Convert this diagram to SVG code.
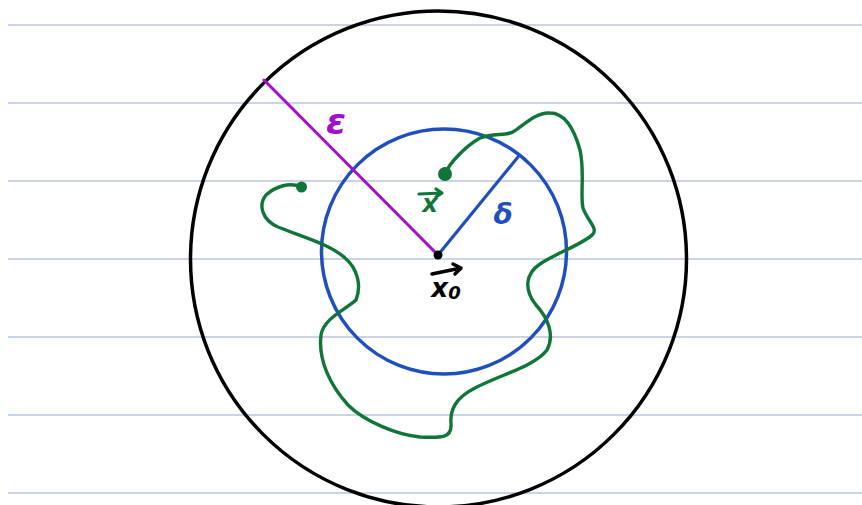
<svg xmlns="http://www.w3.org/2000/svg" width="862" height="505" viewBox="0 0 862 505">
<style>
.rule{stroke:#b8c4de;stroke-width:1.5}
.hand{fill:none;stroke-linecap:round;stroke-linejoin:round}
.lbl{font-family:"DejaVu Sans",sans-serif;font-style:italic;font-weight:bold}
</style>
<rect width="862" height="505" fill="#ffffff"/>
<g id="rules">
<line class="rule" x1="8" y1="25" x2="862" y2="25"/>
<line class="rule" x1="8" y1="103" x2="862" y2="103"/>
<line class="rule" x1="8" y1="181" x2="862" y2="181"/>
<line class="rule" x1="8" y1="259" x2="862" y2="259"/>
<line class="rule" x1="8" y1="337" x2="862" y2="337"/>
<line class="rule" x1="8" y1="415" x2="862" y2="415"/>
<line class="rule" x1="8" y1="493" x2="862" y2="493"/>
</g>
<g id="outer-circle"><circle class="hand" cx="438.5" cy="259" r="248" stroke="#000" stroke-width="3.5"/></g>
<g id="inner-circle"><circle class="hand" cx="444" cy="251.5" r="122.5" stroke="#1f4fbf" stroke-width="3.5"/></g>
<g id="curve">
<path class="hand" stroke="#107538" stroke-width="3.4" d="M445,174 C450,162 466,146 480,138 C495,132 508,137 516,130 C527,122 538,112 550,113 C566,113 575,132 580,150 C585,172 580,195 583,208 C587,220 598,228 593,234 C584,244 558,252 540,264 C525,274 524,290 536,305 C548,318 555,335 547,350 C535,366 500,375 475,388 C455,398 450,410 451,424 C452,438 442,438 420,437 C398,435 365,422 348,405 C330,385 318,360 321,335 C324,318 345,310 356,300 C362,285 357,268 345,258 C330,244 300,236 278,227 C262,220 258,205 266,195 C276,186 290,182 301,187"/>
<circle cx="445" cy="174" r="7" fill="#107538"/>
<circle cx="301.5" cy="187" r="5.5" fill="#107538"/>
</g>
<g id="radius-epsilon">
<line class="hand" x1="264" y1="80" x2="438" y2="255" stroke="#a410c8" stroke-width="3"/>
<text class="lbl" x="336" y="134" font-size="36" font-weight="normal" fill="#a410c8" text-anchor="middle">ε</text>
</g>
<g id="radius-delta">
<line class="hand" x1="438" y1="255" x2="518" y2="157" stroke="#1f4fbf" stroke-width="3.2"/>
<text class="lbl" x="503" y="224" font-size="28" font-weight="normal" fill="#1f4fbf" text-anchor="middle">δ</text>
</g>
<g id="center">
<circle cx="438" cy="255" r="4.5" fill="#000"/>
<text class="lbl" x="446" y="297" font-size="26" fill="#000" text-anchor="middle">x<tspan font-size="18" dy="2">0</tspan></text>
<path class="hand" stroke="#000" stroke-width="3.5" d="M432,274 L461,268 M453,264 L461,268 L455,274"/>
</g>
<g id="point-x">
<text class="lbl" x="430" y="212" font-size="24" fill="#107538" text-anchor="middle">x</text>
<path class="hand" stroke="#107538" stroke-width="3.2" d="M419,194 L442,193 M436,189 L442,193 L436,197"/>
</g>
</svg>
